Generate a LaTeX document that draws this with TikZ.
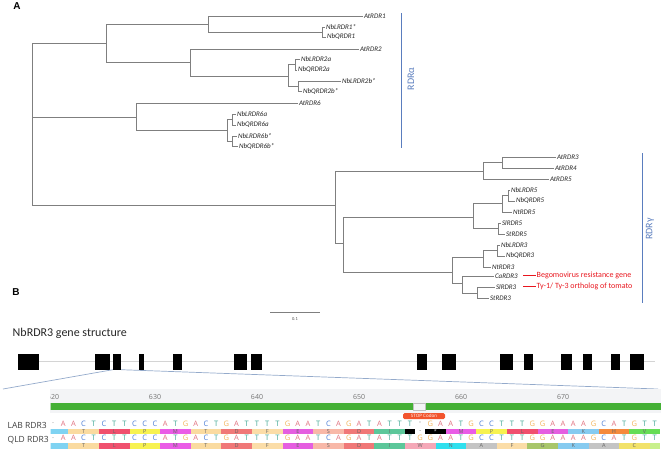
\documentclass[tikz,border=0pt]{standalone}
\usepackage{fontspec}
\setmainfont{Carlito}
\newfontfamily\osans{Open Sans}
\newfontfamily\lsans{Liberation Sans}
\definecolor{treegray}{HTML}{7F7F7F}
\definecolor{cladeblue}{HTML}{5A7DBE}
\definecolor{annred}{HTML}{E8161E}
\definecolor{zoomblue}{HTML}{94AACB}
\definecolor{introngray}{HTML}{D4D4D4}
\definecolor{panelgray}{HTML}{F3F4F6}
\definecolor{gbar}{HTML}{44B035}
\definecolor{ntA}{HTML}{E0707E}
\definecolor{ntC}{HTML}{4E7FD6}
\definecolor{ntG}{HTML}{F2B35A}
\definecolor{ntT}{HTML}{3DA592}
\definecolor{ntdot}{HTML}{909090}
\definecolor{aaPart}{HTML}{7FD3F2}
\definecolor{aaT}{HTML}{FADBA0}
\definecolor{aaL}{HTML}{F0506E}
\definecolor{aaP}{HTML}{F7F250}
\definecolor{aaM}{HTML}{EA5CE6}
\definecolor{aaD}{HTML}{F07878}
\definecolor{aaF}{HTML}{FBDDA8}
\definecolor{aaE}{HTML}{E55EE0}
\definecolor{aaS}{HTML}{F8B8A8}
\definecolor{aaI}{HTML}{5CC79A}
\definecolor{aaK}{HTML}{86CBF0}
\definecolor{aaH}{HTML}{F58A3C}
\definecolor{aaV}{HTML}{66DD55}
\definecolor{aaW}{HTML}{F5A8B8}
\definecolor{aaN}{HTML}{2FE0EE}
\definecolor{aaA}{HTML}{C4C4C4}
\definecolor{aaG}{HTML}{A8C66A}
\definecolor{aaC}{HTML}{F2E26A}
\definecolor{aaEnd}{HTML}{C8F08C}
\definecolor{stopred}{HTML}{F2542D}
\usetikzlibrary{calc}
\begin{document}
\begin{tikzpicture}[x=1pt,y=-1pt,
  branch/.style={draw=treegray, line width=0.6pt},
  leaf/.style={anchor=west, inner sep=0.8pt, font=\fontsize{7}{8}\selectfont\itshape, text=black!85},
  cladebar/.style={draw=cladeblue, line width=0.7pt},
  cladelab/.style={rotate=90, text=cladeblue, font=\fontsize{10}{11}\selectfont, inner sep=0pt},
  redlab/.style={anchor=west, inner sep=0.5pt, text=annred, font=\fontsize{8}{9}\selectfont},
  redline/.style={draw=annred, line width=1pt},
  panellab/.style={font=\lsans\bfseries\fontsize{10}{11}\selectfont, inner sep=0pt},
  exon/.style={fill=black, inner sep=0pt, minimum height=16pt},
  intron/.style={draw=introngray, line width=1.4pt},
  zoomline/.style={draw=zoomblue, line width=0.7pt},
  nt/.style={font=\osans\fontsize{7.5}{8}\selectfont, inner sep=0pt},
  aalet/.style={font=\osans\fontsize{5.5}{6}\selectfont, inner sep=0pt},
  rowlab/.style={anchor=west, font=\osans\fontsize{8.5}{9}\selectfont, text=black!75, inner sep=0pt},
  rulernum/.style={font=\osans\fontsize{7}{8}\selectfont, text=black!55, inner sep=0pt},
  stopbox/.style={fill=stopred, rounded corners=1.5pt, minimum width=42pt, minimum height=6pt, inner sep=0pt, text=white, font=\osans\fontsize{4.5}{5}\selectfont}
]
\useasboundingbox (0,0) rectangle (661,461);

% ---------------- Panel A ----------------
\node[panellab] (labA) at (17,6) {A};

\coordinate (root) at (32,117);
\coordinate (n12) at (106,43);
\coordinate (n1) at (208,24);
\coordinate (n1b) at (322,32);
\coordinate (n2) at (190,62);
\coordinate (n2b) at (288,76);
\coordinate (n2a) at (295,64.5);
\coordinate (n2c) at (298,86);
\coordinate (n6) at (136,117);
\coordinate (n6b) at (227,130);
\coordinate (n6a) at (232,119.5);
\coordinate (n6c) at (232,141);
\coordinate (nG) at (335,205);
\coordinate (nA) at (483,171);
\coordinate (nA34) at (502,162.5);
\coordinate (nB) at (343,243);
\coordinate (n5) at (473,217);
\coordinate (n5n) at (502,203);
\coordinate (n5nb) at (508,195.5);
\coordinate (n5s) at (498,228.5);
\coordinate (n3) at (452,272);
\coordinate (n3n) at (483,257);
\coordinate (n3nb) at (497,250.5);
\coordinate (n3s) at (462,283);
\coordinate (n3ss) at (477,293);

\node[leaf] (AtRDR1) at (363,16) {AtRDR1};
\node[leaf] (NbLRDR1) at (325,27) {NbLRDR1*};
\node[leaf] (NbQRDR1) at (326,37) {NbQRDR1};
\node[leaf] (AtRDR2) at (359,49) {AtRDR2};
\node[leaf] (NbLRDR2a) at (300,59) {NbLRDR2a};
\node[leaf] (NbQRDR2a) at (297,70) {NbQRDR2a};
\node[leaf] (NbLRDR2b) at (341,81) {NbLRDR2b*};
\node[leaf] (NbQRDR2b) at (302,91) {NbQRDR2b*};
\node[leaf] (AtRDR6) at (298,103) {AtRDR6};
\node[leaf] (NbLRDR6a) at (236,114) {NbLRDR6a};
\node[leaf] (NbQRDR6a) at (236,125) {NbQRDR6a};
\node[leaf] (NbLRDR6b) at (237,136) {NbLRDR6b*};
\node[leaf] (NbQRDR6b) at (238,146) {NbQRDR6b*};
\node[leaf] (AtRDR3) at (556,157) {AtRDR3};
\node[leaf] (AtRDR4) at (554,168) {AtRDR4};
\node[leaf] (AtRDR5) at (549,179) {AtRDR5};
\node[leaf] (NbLRDR5) at (510,190) {NbLRDR5};
\node[leaf] (NbQRDR5) at (515,201) {NbQRDR5};
\node[leaf] (NtRDR5) at (512,212) {NtRDR5};
\node[leaf] (SlRDR5) at (501,223) {SlRDR5};
\node[leaf] (StRDR5) at (505,234) {StRDR5};
\node[leaf] (NbLRDR3) at (500,245) {NbLRDR3};
\node[leaf] (NbQRDR3) at (505,256) {NbQRDR3};
\node[leaf] (NtRDR3) at (491,267) {NtRDR3};
\node[leaf] (CaRDR3) at (494,276) {CaRDR3};
\node[leaf] (SlRDR3) at (495,287) {SlRDR3};
\node[leaf] (StRDR3) at (489,298) {StRDR3};

\foreach \p/\q in {root/n12, root/n6, root/nG,
  n12/n1, n12/n2, n1/AtRDR1, n1/n1b, n1b/NbLRDR1, n1b/NbQRDR1,
  n2/AtRDR2, n2/n2b, n2b/n2a, n2b/n2c, n2a/NbLRDR2a, n2a/NbQRDR2a,
  n2c/NbLRDR2b, n2c/NbQRDR2b,
  n6/AtRDR6, n6/n6b, n6b/n6a, n6b/n6c, n6a/NbLRDR6a, n6a/NbQRDR6a,
  n6c/NbLRDR6b, n6c/NbQRDR6b,
  nG/nA, nG/nB, nA/nA34, nA/AtRDR5, nA34/AtRDR3, nA34/AtRDR4,
  nB/n5, nB/n3, n5/n5n, n5/n5s, n5n/n5nb, n5n/NtRDR5,
  n5nb/NbLRDR5, n5nb/NbQRDR5, n5s/SlRDR5, n5s/StRDR5,
  n3/n3n, n3/n3s, n3n/n3nb, n3n/NtRDR3, n3nb/NbLRDR3, n3nb/NbQRDR3,
  n3s/CaRDR3, n3s/n3ss, n3ss/SlRDR3, n3ss/StRDR3}
  \draw[branch] (\p) |- (\q);

% clade bars
\coordinate (ba1) at (401,13);
\coordinate (ba2) at (401,148);
\draw[cladebar] (ba1) -- (ba2);
\node[cladelab] (alpha) at (411,79) {RDRα};
\coordinate (bg1) at (642,153);
\coordinate (bg2) at (642,303);
\draw[cladebar] (bg1) -- (bg2);
\node[cladelab] (gamma) at (650,229) {RDRγ};

% annotations
\coordinate (r1) at (523,275.5);
\node[redlab] (beg) at (536,275.5) {Begomovirus resistance gene};
\draw[redline] (r1) -- (beg);
\coordinate (r2) at (523,286.5);
\node[redlab] (ty) at (536,286.5) {Ty-1/ Ty-3 ortholog of tomato};
\draw[redline] (r2) -- (ty);

% scale bar
\coordinate (sb1) at (270,312);
\coordinate (sb2) at (320,312);
\draw[branch] (sb1) -- (sb2);
\node[font=\fontsize{4.5}{5}\selectfont, text=black!70, inner sep=0pt] (sbl) at (295,319) {0.1};

% ---------------- Panel B ----------------
\node[panellab] (labB) at (16,292) {B};
\node[anchor=base west, inner sep=0pt, font=\fontsize{12}{13}\selectfont, text=black!85] (gtitle) at (12.5,336) {NbRDR3 gene structure};

\foreach \i/\cx/\w in {1/28.5/21, 2/102.5/15, 3/117/8, 4/141.5/5, 5/177.5/9, 6/240.5/13, 7/256.5/11,
  8/422/10, 9/449/14, 10/506.5/13, 11/528.5/9, 12/566.5/11, 13/587.5/9, 14/615.5/9, 15/637/14}
  \node[exon, minimum width=\w pt] (e\i) at (\cx,361.5) {};
\foreach \i [evaluate=\i as \j using int(\i+1)] in {1,...,14}
  \draw[intron] (e\i.east) -- (e\j.west);
\coordinate (iend) at (655,361.5);
\draw[intron] (e15.east) -- (iend);

\coordinate (zl) at (3,389);
\coordinate (zr) at (658,389);
\draw[zoomline] (e3.south west) -- (zl);
\draw[zoomline] (e3.south east) -- (zr);

% ruler panel
\fill[panelgray] (50,389) rectangle (661,413);
\begin{scope}
\clip (50.5,385) rectangle (661,461);
\foreach \n in {620,630,...,670}
  \node[rulernum] (rn\n) at ({53+10.2*(\n-620)},397) {\n};
\fill[gbar] (50,403) rectangle (413,410);
\fill[gbar] (425,403) rectangle (661,410);
\draw[black!25, line width=0.4pt] (413,403) rectangle (425,410);
% amino-acid bars, LAB
\foreach \s/\e/\cl/\aa/\tc in {0/1/aaPart/{}/black, 2/4/aaT/T/black!60, 5/7/aaL/L/black!60, 8/10/aaP/P/black!60,
  11/13/aaM/M/black!60, 14/16/aaT/T/black!60, 17/19/aaD/D/black!60, 20/22/aaF/F/black!60,
  23/25/aaE/E/black!60, 26/28/aaS/S/black!60, 29/31/aaD/D/black!60, 32/34/aaI/I/black!60,
  35/35/black/{}/white, 36/36/white/-/black!70, 37/38/black/*/white!80!black, 39/41/aaM/M/black!60,
  42/44/aaP/P/black!60, 45/47/aaL/L/black!60, 48/50/aaE/E/black!60, 51/53/aaK/K/black!60,
  54/56/aaH/H/black!60, 57/59/aaV/V/black!60}
{
  \fill[\cl] ({53+10.2*\s-5.1},428.5) rectangle ({53+10.2*\e+5.1},434);
  \node[aalet, text=\tc] (la\s) at ({53+10.2*(\s+\e)/2},431.4) {\aa};
}
% amino-acid bars, QLD
\foreach \s/\e/\cl/\aa in {0/1/aaPart/{}, 2/4/aaT/T, 5/7/aaL/L, 8/10/aaP/P,
  11/13/aaM/M, 14/16/aaT/T, 17/19/aaD/D, 20/22/aaF/F,
  23/25/aaE/E, 26/28/aaS/S, 29/31/aaD/D, 32/34/aaI/I,
  35/37/aaW/W, 38/40/aaN/N, 41/43/aaA/A, 44/46/aaF/F, 47/49/aaG/G,
  50/52/aaK/K, 53/55/aaA/A, 56/58/aaC/C, 59/59/aaEnd/{}}
{
  \fill[\cl] ({53+10.2*\s-5.1},443) rectangle ({53+10.2*\e+5.1},448.5);
  \node[aalet, text=black!60] (qa\s) at ({53+10.2*(\s+\e)/2},445.9) {\aa};
}
% nucleotides
\foreach \nt/\cl [count=\i from 0] in {./ntdot,A/ntA,A/ntA,C/ntC,T/ntT,C/ntC,T/ntT,T/ntT,C/ntC,C/ntC,
  C/ntC,A/ntA,T/ntT,G/ntG,A/ntA,C/ntC,T/ntT,G/ntG,A/ntA,T/ntT,
  T/ntT,T/ntT,T/ntT,G/ntG,A/ntA,A/ntA,T/ntT,C/ntC,A/ntA,G/ntG,
  A/ntA,T/ntT,A/ntA,T/ntT,T/ntT,T/ntT,-/ntdot,G/ntG,A/ntA,A/ntA,
  T/ntT,G/ntG,C/ntC,C/ntC,T/ntT,T/ntT,T/ntT,G/ntG,G/ntG,A/ntA,
  A/ntA,A/ntA,A/ntA,G/ntG,C/ntC,A/ntA,T/ntT,G/ntG,T/ntT,T/ntT}
  \node[nt, text=\cl] (lab\i) at ({53+10.2*\i},423.5) {\nt};
\foreach \nt/\cl [count=\i from 0] in {./ntdot,A/ntA,A/ntA,C/ntC,T/ntT,C/ntC,T/ntT,T/ntT,C/ntC,C/ntC,
  C/ntC,A/ntA,T/ntT,G/ntG,A/ntA,C/ntC,T/ntT,G/ntG,A/ntA,T/ntT,
  T/ntT,T/ntT,T/ntT,G/ntG,A/ntA,A/ntA,T/ntT,C/ntC,A/ntA,G/ntG,
  A/ntA,T/ntT,A/ntA,T/ntT,T/ntT,T/ntT,G/ntG,G/ntG,A/ntA,A/ntA,
  T/ntT,G/ntG,C/ntC,C/ntC,T/ntT,T/ntT,T/ntT,G/ntG,G/ntG,A/ntA,
  A/ntA,A/ntA,A/ntA,G/ntG,C/ntC,A/ntA,T/ntT,G/ntG,T/ntT,T/ntT}
  \node[nt, text=\cl] (qld\i) at ({53+10.2*\i},438) {\nt};
\end{scope}

\node[stopbox] (stop) at (424,416.2) {STOP Codon};

\node[rowlab] (labrow) at (7.5,425.5) {LAB RDR3};
\node[rowlab] (qldrow) at (7.5,440) {QLD RDR3};
\end{tikzpicture}
\end{document}
